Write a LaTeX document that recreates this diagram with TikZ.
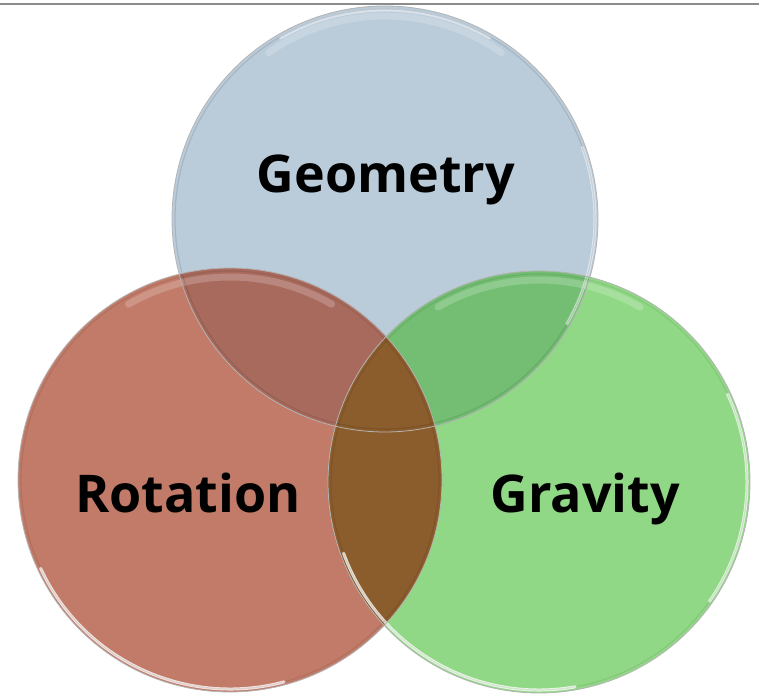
\documentclass[tikz,border=0pt]{standalone}
\usepackage{fontspec}
\setmainfont{Open Sans}
\definecolor{cblue}{RGB}{186,203,218}
\definecolor{cred}{RGB}{193,123,104}
\definecolor{cgreen}{RGB}{145,216,134}
\definecolor{cbr}{RGB}{168,106,93}
\definecolor{cbg}{RGB}{115,190,115}
\definecolor{crg}{RGB}{139,92,44}
\definecolor{rimgray}{RGB}{180,180,180}
\definecolor{topline}{RGB}{140,140,140}
\tikzset{
  lbl/.style={font=\bfseries\fontsize{52}{60}\selectfont, anchor=base, inner sep=0pt, text=black},
  rim/.style={draw=rimgray, line width=0.8pt},
  gloss/.style={draw=white, line width=3pt, opacity=0.6, line cap=round},
  softgloss/.style={draw=white, line width=7pt, opacity=0.2, line cap=round}
}
\begin{document}
\begin{tikzpicture}[x=1pt,y=1pt]
\useasboundingbox (0,0) rectangle (759,696);
\fill[white] (0,0) rectangle (759,696);
\draw[topline, line width=2.5pt] (0,692) -- (759,692);
% circle centres
\coordinate (B) at (385,477);
\coordinate (R) at (230,216);
\coordinate (G) at (539,214);
% base fills
\fill[cblue] (B) circle (213);
\fill[cred] (R) circle (212);
\fill[cgreen] (G) circle (211);
% overlaps
\begin{scope}
  \clip (B) circle (213);
  \fill[cbr] (R) circle (212);
  \fill[cbg] (G) circle (211);
\end{scope}
\begin{scope}
  \clip (R) circle (212);
  \fill[crg] (G) circle (211);
\end{scope}
% gloss highlights along the rims
\draw[softgloss] ([shift={(55:203)}]B) arc (55:125:203);
\draw[gloss, opacity=0.45] ([shift={(60:209)}]B) arc (60:120:209);
\draw[gloss, opacity=0.55] ([shift={(-30:210)}]B) arc (-30:20:210);
\draw[softgloss] ([shift={(60:203)}]R) arc (60:120:203);
\draw[gloss, opacity=0.8] ([shift={(205:209)}]R) arc (205:285:209);
\draw[gloss, opacity=0.8] ([shift={(200:208)}]G) arc (200:280:208);
\draw[gloss, opacity=0.7] ([shift={(-35:208)}]G) arc (-35:25:208);
\draw[softgloss] ([shift={(60:202)}]G) arc (60:120:202);
% inner circle edges seen through
\draw[black, opacity=0.10, line width=1.2pt] (B) circle (210);
\draw[black, opacity=0.08, line width=1.2pt] (R) circle (209);
\draw[black, opacity=0.08, line width=1.2pt] (G) circle (208);
% outer rims
\draw[rim] (B) circle (213);
\draw[rim] (R) circle (212);
\draw[rim] (G) circle (211);
% labels
\node[lbl] (geo) at (386,503) {Geometry};
\node[lbl] (rot) at (188,184) {Rotation};
\node[lbl] (gra) at (585,184) {Gravity};
\end{tikzpicture}
\end{document}
